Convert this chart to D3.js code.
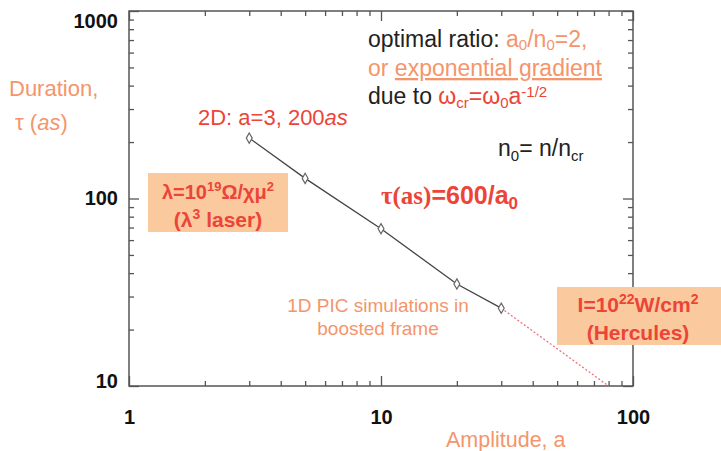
<!DOCTYPE html>
<html><head><meta charset="utf-8">
<script src="https://cdn.jsdelivr.net/npm/d3@7"></script>
<style>
body{margin:0;background:#fff}
svg{font-family:"Liberation Sans",Arial,Helvetica,sans-serif}
</style></head>
<body><svg id="c" width="721" height="451"></svg>
<script>
// ---- data ----
const amplitude = [3, 5, 10, 20, 30];
const duration = [210, 128, 69, 35, 26];
const extrapAmplitude = [30, 80];
const extrapDuration = [26, 10];
const xMajorTicks = [1, 10, 100];
const yMajorTicks = [10, 100, 1000];
const xMinorTicks = [2,3,4,5,6,7,8,9,20,30,40,50,60,70,80,90];
const yMinorTicks = [20,30,40,50,60,70,80,90,200,300,400,500,600,700,800,900];

const ORANGE = "#f4956b", RED = "#ec4438", DARK = "#222", BOX = "#fac99d", AX = "#555";

const svg = d3.select("#c");
const x = d3.scaleLog().domain([1, 100]).range([129, 633]);
const y = d3.scaleLog().domain([10, 1000]).range([386, 11]);
const X0 = 129, X1 = 633, Y0 = 386, Y1 = 11;

// frame
svg.append("rect").attr("x", X0).attr("y", Y1).attr("width", X1 - X0).attr("height", Y0 - Y1)
  .attr("fill", "none").attr("stroke", AX).attr("stroke-width", 1.5);

function styleAxis(g){ g.select(".domain").remove(); g.selectAll(".tick line").attr("stroke", AX).attr("stroke-width", 1.3); }

// bottom major with labels
const gb = svg.append("g").attr("transform", `translate(0,${Y0})`)
  .call(d3.axisBottom(x).tickValues(xMajorTicks).tickSize(-10).tickPadding(24).tickFormat(d3.format("d")));
styleAxis(gb);
gb.selectAll("text").attr("font-size", 20).attr("font-weight", "bold").attr("fill", "#111").attr("font-family", "Liberation Sans, Arial");
svg.append("g").attr("transform", `translate(0,${Y0})`)
  .call(d3.axisBottom(x).tickValues(xMinorTicks).tickSize(-5).tickFormat("")).call(styleAxis);
// top mirrored
svg.append("g").attr("transform", `translate(0,${Y1})`)
  .call(d3.axisTop(x).tickValues(xMajorTicks).tickSize(-10).tickFormat("")).call(styleAxis);
svg.append("g").attr("transform", `translate(0,${Y1})`)
  .call(d3.axisTop(x).tickValues(xMinorTicks).tickSize(-5).tickFormat("")).call(styleAxis);

// left major with labels
const gl = svg.append("g").attr("transform", `translate(${X0},0)`)
  .call(d3.axisLeft(y).tickValues(yMajorTicks).tickSize(-10).tickPadding(11).tickFormat(d3.format("d")));
styleAxis(gl);
gl.selectAll("text").attr("font-size", 20).attr("font-weight", "bold").attr("fill", "#111").attr("font-family", "Liberation Sans, Arial")
  .attr("dy", d => d === 1000 ? "0.8em" : d === 10 ? "0.05em" : "0.32em");
svg.append("g").attr("transform", `translate(${X0},0)`)
  .call(d3.axisLeft(y).tickValues(yMinorTicks).tickSize(-5).tickFormat("")).call(styleAxis);
// right mirrored
svg.append("g").attr("transform", `translate(${X1},0)`)
  .call(d3.axisRight(y).tickValues(yMajorTicks).tickSize(-10).tickFormat("")).call(styleAxis);
svg.append("g").attr("transform", `translate(${X1},0)`)
  .call(d3.axisRight(y).tickValues(yMinorTicks).tickSize(-5).tickFormat("")).call(styleAxis);

// extrapolation dotted line
const line = d3.line().x(d => x(d[0])).y(d => y(d[1]));
svg.append("path").datum(extrapAmplitude.map((a, i) => [a, extrapDuration[i]]))
  .attr("d", line).attr("fill", "none").attr("stroke", "#f0707a").attr("stroke-width", 1.3).attr("stroke-dasharray", "2,2");

// simulation line
const pts = amplitude.map((a, i) => [a, duration[i]]);
svg.append("path").datum(pts).attr("d", line).attr("fill", "none").attr("stroke", "#444").attr("stroke-width", 1.3);
svg.selectAll("path.pt").data(pts).join("path").attr("class", "pt")
  .attr("transform", d => `translate(${x(d[0])},${y(d[1])})`)
  .attr("d", d3.symbol(d3.symbolDiamond, 30)())
  .attr("fill", "#fff").attr("stroke", "#666").attr("stroke-width", 1.2);

// axis titles
svg.append("text").attr("x", 9).attr("y", 96).attr("font-size", 22).attr("fill", ORANGE).text("Duration,");
const tt = svg.append("text").attr("x", 15).attr("y", 130).attr("font-size", 22).attr("fill", ORANGE);
tt.append("tspan").text("τ (");
tt.append("tspan").attr("font-style", "italic").text("as");
tt.append("tspan").text(")");
svg.append("text").attr("x", 446).attr("y", 447).attr("font-size", 21.5).attr("fill", ORANGE).text("Amplitude, a");

// 2D label
const t2 = svg.append("text").attr("x", 198).attr("y", 125).attr("font-size", 22).attr("fill", RED);
t2.append("tspan").text("2D: a=3, 200");
t2.append("tspan").attr("font-style", "italic").text("as");

// formula
const tf = svg.append("text").attr("x", 381).attr("y", 204).attr("font-size", 25).attr("font-weight", "bold").attr("fill", RED);
tf.append("tspan").attr("font-family", "Liberation Serif, Times New Roman, serif").text("τ(as)");
tf.append("tspan").text("=600/a");
tf.append("tspan").attr("font-size", 17).attr("dy", 5).text("0");

// 1D PIC text
svg.append("text").attr("x", 378).attr("y", 312).attr("text-anchor", "middle").attr("font-size", 19).attr("fill", ORANGE).text("1D PIC simulations in");
svg.append("text").attr("x", 378).attr("y", 335).attr("text-anchor", "middle").attr("font-size", 19).attr("fill", ORANGE).text("boosted frame");

// top right annotations
const SUB = 15;
const l1 = svg.append("text").attr("x", 368).attr("y", 47).attr("font-size", 23).attr("fill", DARK);
l1.append("tspan").text("optimal ratio: ");
l1.append("tspan").attr("fill", ORANGE).text("a");
l1.append("tspan").attr("fill", ORANGE).attr("font-size", SUB).attr("dy", 3).text("0");
l1.append("tspan").attr("fill", ORANGE).attr("dy", -3).text("/n");
l1.append("tspan").attr("fill", ORANGE).attr("font-size", SUB).attr("dy", 3).text("0");
l1.append("tspan").attr("fill", ORANGE).attr("dy", -3).text("=2,");

const l2 = svg.append("text").attr("x", 368).attr("y", 76).attr("font-size", 23).attr("fill", ORANGE);
l2.append("tspan").text("or ");
l2.append("tspan").attr("text-decoration", "underline").text("exponential gradient");

const l3 = svg.append("text").attr("x", 368).attr("y", 104).attr("font-size", 23).attr("fill", DARK);
l3.append("tspan").text("due to ");
l3.append("tspan").attr("fill", RED).text("ω");
l3.append("tspan").attr("fill", RED).attr("font-size", SUB).attr("dy", 4).text("cr");
l3.append("tspan").attr("fill", RED).attr("dy", -4).text("=ω");
l3.append("tspan").attr("fill", RED).attr("font-size", SUB).attr("dy", 4).text("0");
l3.append("tspan").attr("fill", RED).attr("dy", -4).text("a");
l3.append("tspan").attr("fill", RED).attr("font-size", SUB).attr("dy", -7).text("-1/2");

const l4 = svg.append("text").attr("x", 498).attr("y", 156).attr("font-size", 23).attr("fill", DARK);
l4.append("tspan").text("n");
l4.append("tspan").attr("font-size", SUB).attr("dy", 5).text("0");
l4.append("tspan").attr("dy", -5).text("= n/n");
l4.append("tspan").attr("font-size", SUB).attr("dy", 5).text("cr");

// boxes
svg.append("rect").attr("x", 148).attr("y", 173).attr("width", 140).attr("height", 59).attr("fill", BOX);
const b1 = svg.append("text").attr("x", 218).attr("y", 199).attr("text-anchor", "middle").attr("font-size", 20).attr("font-weight", "bold").attr("fill", RED);
b1.append("tspan").text("λ=10");
b1.append("tspan").attr("font-size", 13).attr("dy", -8).text("19");
b1.append("tspan").attr("dy", 8).text("Ω/χμ");
b1.append("tspan").attr("font-size", 13).attr("dy", -8).text("2");
const b1b = svg.append("text").attr("x", 218).attr("y", 227).attr("text-anchor", "middle").attr("font-size", 21).attr("font-weight", "bold").attr("fill", RED);
b1b.append("tspan").text("(λ");
b1b.append("tspan").attr("font-size", 14).attr("dy", -8).text("3");
b1b.append("tspan").attr("dy", 8).text(" laser)");

svg.append("rect").attr("x", 557).attr("y", 287).attr("width", 164).attr("height", 58).attr("fill", BOX);
const b2 = svg.append("text").attr("x", 638).attr("y", 312).attr("text-anchor", "middle").attr("font-size", 21).attr("font-weight", "bold").attr("fill", RED);
b2.append("tspan").text("I=10");
b2.append("tspan").attr("font-size", 14).attr("dy", -8).text("22");
b2.append("tspan").attr("dy", 8).text("W/cm");
b2.append("tspan").attr("font-size", 14).attr("dy", -8).text("2");
svg.append("text").attr("x", 638).attr("y", 340).attr("text-anchor", "middle").attr("font-size", 21).attr("font-weight", "bold").attr("fill", RED).text("(Hercules)");
</script></body></html>
